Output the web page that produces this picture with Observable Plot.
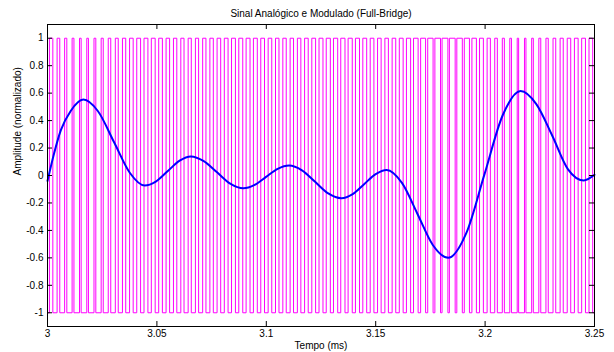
<!DOCTYPE html>
<html><head><meta charset="utf-8">
<script src="https://cdn.jsdelivr.net/npm/d3@7"></script>
<script src="https://cdn.jsdelivr.net/npm/@observablehq/plot@0.6"></script>
<style>body{margin:0;background:#fff} svg{display:block}</style>
</head><body><div id="chart"></div>
<script>
const title = "Sinal Analógico e Modulado (Full-Bridge)";
const xLabel = "Tempo (ms)";
const yLabel = "Amplitude (normalizado)";
const xTicks = [3, 3.05, 3.1, 3.15, 3.2, 3.25];
const xTickLabels = ["3", "3.05", "3.1", "3.15", "3.2", "3.25"];
const yTicks = [-1, -0.8, -0.6, -0.4, -0.2, 0, 0.2, 0.4, 0.6, 0.8, 1];
const yTickLabels = ["-1", "-0.8", "-0.6", "-0.4", "-0.2", "0", "0.2", "0.4", "0.6", "0.8", "1"];

// analog (reference) signal
const analogTime = [3.0000, 3.0030, 3.0061, 3.0106, 3.0164, 3.0230, 3.0305, 3.0376, 3.0444, 3.0495,
  3.0550, 3.0604, 3.0655, 3.0714, 3.0775, 3.0835, 3.0895, 3.0947, 3.0999, 3.1052,
  3.1104, 3.1163, 3.1223, 3.1283, 3.1343, 3.1395, 3.1447, 3.1500, 3.1550, 3.1620,
  3.1691, 3.1761, 3.1832, 3.1914, 3.1997, 3.2080, 3.2162, 3.2234, 3.2307, 3.2379,
  3.2451, 3.2500];
const analogValue = [-0.04, 0.16, 0.33, 0.47, 0.553, 0.47, 0.24, 0.02, -0.073, -0.044,
  0.033, 0.108, 0.139, 0.105, 0.023, -0.059, -0.093, -0.068, -0.01, 0.049,
  0.073, 0.038, -0.046, -0.130, -0.165, -0.135, -0.063, 0.01, 0.04, -0.054,
  -0.28, -0.506, -0.60, -0.42, 0.008, 0.437, 0.615, 0.52, 0.29, 0.045,
  -0.036, 0.005];

// PWM (full-bridge) output: carrier period and high-level fraction per period
const pwmStart = 3;
const pwmEnd = 3.25;
const pwmPeriod = 1 / 300; // ms
const pwmLevels = [-1, 1];
const pwmDuty = [0.465, 0.365, 0.30, 0.25, 0.225, 0.225, 0.25, 0.285, 0.345, 0.40,
  0.45, 0.495, 0.525, 0.535, 0.53, 0.505, 0.485, 0.46, 0.44, 0.43,
  0.44, 0.45, 0.47, 0.495, 0.515, 0.535, 0.545, 0.54, 0.535, 0.515,
  0.495, 0.475, 0.465, 0.465, 0.475, 0.495, 0.52, 0.54, 0.565, 0.58,
  0.58, 0.57, 0.555, 0.53, 0.505, 0.49, 0.48, 0.495, 0.525, 0.575,
  0.63, 0.68, 0.735, 0.77, 0.80, 0.79, 0.755, 0.705, 0.615, 0.53,
  0.445, 0.355, 0.28, 0.23, 0.195, 0.20, 0.225, 0.265, 0.315, 0.37,
  0.43, 0.48, 0.51, 0.52, 0.505];

const analog = analogTime.map((t, i) => ({t, v: analogValue[i]}));
const [lo, hi] = pwmLevels;
const pwm = [{t: pwmStart, v: lo}];
pwmDuty.forEach((d, k) => {
  const c = pwmStart + (k + 0.5) * pwmPeriod;
  const h = d * pwmPeriod / 2;
  pwm.push({t: c - h, v: lo}, {t: c - h, v: hi}, {t: c + h, v: hi}, {t: c + h, v: lo});
});
pwm.push({t: pwmEnd, v: lo});

const W = 614, H = 352, mL = 47, mR = 20, mT = 24, mB = 26;
const innerH = H - mT - mB, innerW = W - mL - mR;
const tick = 5;

const chart = Plot.plot({
  width: W, height: H,
  marginLeft: mL, marginRight: mR, marginTop: mT, marginBottom: mB,
  x: {domain: [3, 3.25]},
  y: {domain: [-1.1, 1.1]},
  style: {fontFamily: "'Liberation Sans', Arial, Helvetica, sans-serif", fontSize: "10px", background: "#fff", color: "#000"},
  marks: [
    Plot.line(pwm, {x: "t", y: "v", stroke: "#ff00ff", strokeWidth: 1}),
    Plot.line(analog, {x: "t", y: "v", stroke: "#0000ff", strokeWidth: 2, curve: "monotone-x"}),
    Plot.tickX(xTicks, {x: d => d, insetTop: innerH - tick, stroke: "#000"}),
    Plot.tickX(xTicks, {x: d => d, insetBottom: innerH - tick, stroke: "#000"}),
    Plot.tickY(yTicks, {y: d => d, insetRight: innerW - tick, stroke: "#000"}),
    Plot.tickY(yTicks, {y: d => d, insetLeft: innerW - tick, stroke: "#000"}),
    Plot.axisX(xTicks, {anchor: "bottom", tickSize: 0, tickPadding: 3, tickFormat: d => xTickLabels[xTicks.indexOf(d)], label: null}),
    Plot.axisY(yTicks, {anchor: "left", tickSize: 0, tickPadding: 4, tickFormat: d => yTickLabels[yTicks.indexOf(d)], label: null}),
    Plot.frame({stroke: "#000", strokeWidth: 1}),
    Plot.text([title], {text: d => d, frameAnchor: "top", dy: -15, fontSize: 10}),
    Plot.text([xLabel], {text: d => d, frameAnchor: "bottom", dy: 22, fontSize: 10}),
    Plot.text([yLabel], {text: d => d, frameAnchor: "left", dx: -30, rotate: -90, fontSize: 10})
  ]
});
document.getElementById("chart").append(chart);
</script>
</body></html>
